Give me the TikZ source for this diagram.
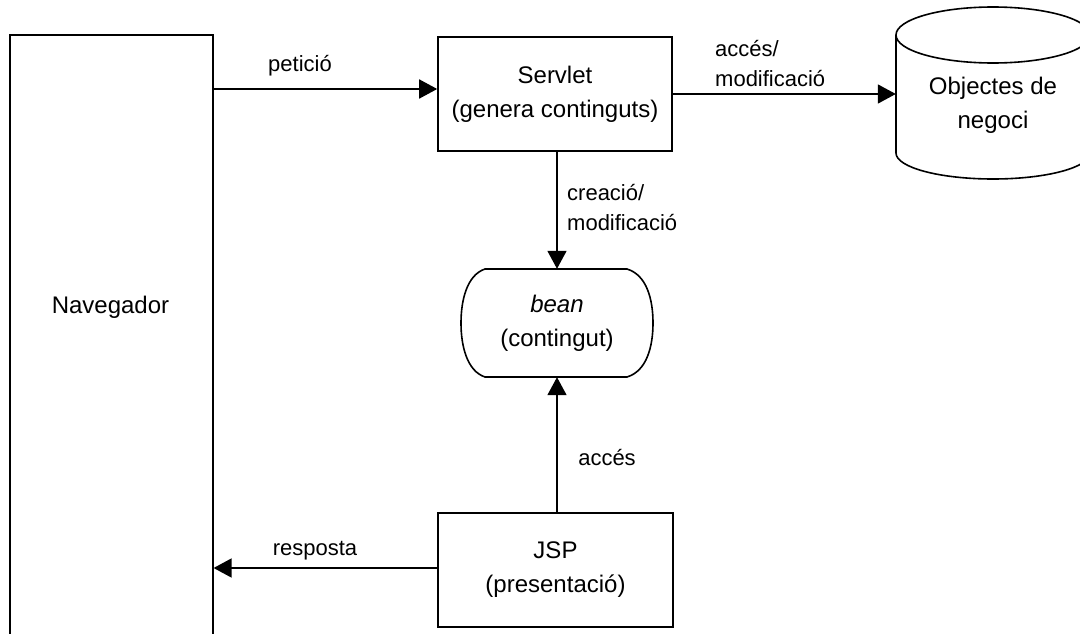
\documentclass[tikz,border=0pt]{standalone}
\usepackage{fontspec}
\setmainfont{Liberation Sans}
\usetikzlibrary{arrows.meta,calc}
\tikzset{
  box/.style={draw, line width=1.6pt, inner sep=0pt, align=center, font=\fontsize{24pt}{34pt}\selectfont},
  txt/.style={inner sep=0pt, align=center, font=\fontsize{24pt}{34pt}\selectfont},
  elbl/.style={inner sep=0pt, align=left, font=\fontsize{22pt}{30pt}\selectfont},
  arr/.style={line width=1.6pt, -{Triangle[length=18pt,width=19pt]}},
  shapeline/.style={line width=1.6pt}
}
\begin{document}
\begin{tikzpicture}[x=1pt,y=-1pt]
\useasboundingbox[fill=white] (0,0) rectangle (1080,634);
% Navegador (open at the bottom)
\node[box, minimum width=203pt, minimum height=700pt, anchor=north west] (nav) at (9,34) {};
\node[txt] (navlbl) at (110.5,307) {Navegador};
% Servlet
\node[box, minimum width=234pt, minimum height=114pt] (servlet) at (555,94) {Servlet\\(genera continguts)};
% Objectes de negoci (cylinder)
\draw[shapeline] (896,35) -- (896,153) arc[start angle=180, end angle=360, x radius=97pt, y radius=26pt];
\draw[shapeline] (993,35) ellipse[x radius=97pt, y radius=28pt];
\node[txt, minimum width=194pt] (db) at (993,105) {Objectes de\\negoci};
% bean
\node[txt, minimum width=192pt, minimum height=108pt] (bean) at (557,323) {\textit{bean}\\(contingut)};
\draw[shapeline] (485,269) -- (627,269)
  .. controls (647,275) and (653,300) .. (653,323)
  .. controls (653,346) and (647,371) .. (627,377)
  -- (485,377)
  .. controls (467,371) and (461,346) .. (461,323)
  .. controls (461,300) and (467,275) .. (485,269) -- cycle;
% JSP
\node[box, minimum width=235pt, minimum height=114pt] (jsp) at (555.5,570) {JSP\\(presentació)};
% connectors
\coordinate (pin) at ([yshift=5pt]servlet.west);
\draw[arr] (nav.east |- pin) -- (pin);
\node[txt, font=\fontsize{22pt}{30pt}\selectfont] (lpet) at (300,66) {petició};
\draw[arr] (servlet.east) -- (servlet.east -| db.west);
\node[elbl, anchor=west] (lacc) at (715,63.5) {accés/\\modificació};
\draw[arr] (servlet.south -| bean.north) -- (bean.north);
\node[elbl, anchor=west] (lcre) at (567,208) {creació/\\modificació};
\draw[arr] (jsp.north -| bean.south) -- (bean.south);
\node[txt, font=\fontsize{22pt}{30pt}\selectfont] (laccs) at (607,458) {accés};
\coordinate (rout) at ([yshift=2pt]jsp.west);
\draw[arr] (rout) -- (rout -| nav.east);
\node[txt, font=\fontsize{22pt}{30pt}\selectfont] (lresp) at (315,551) {resposta};
\end{tikzpicture}
\end{document}
